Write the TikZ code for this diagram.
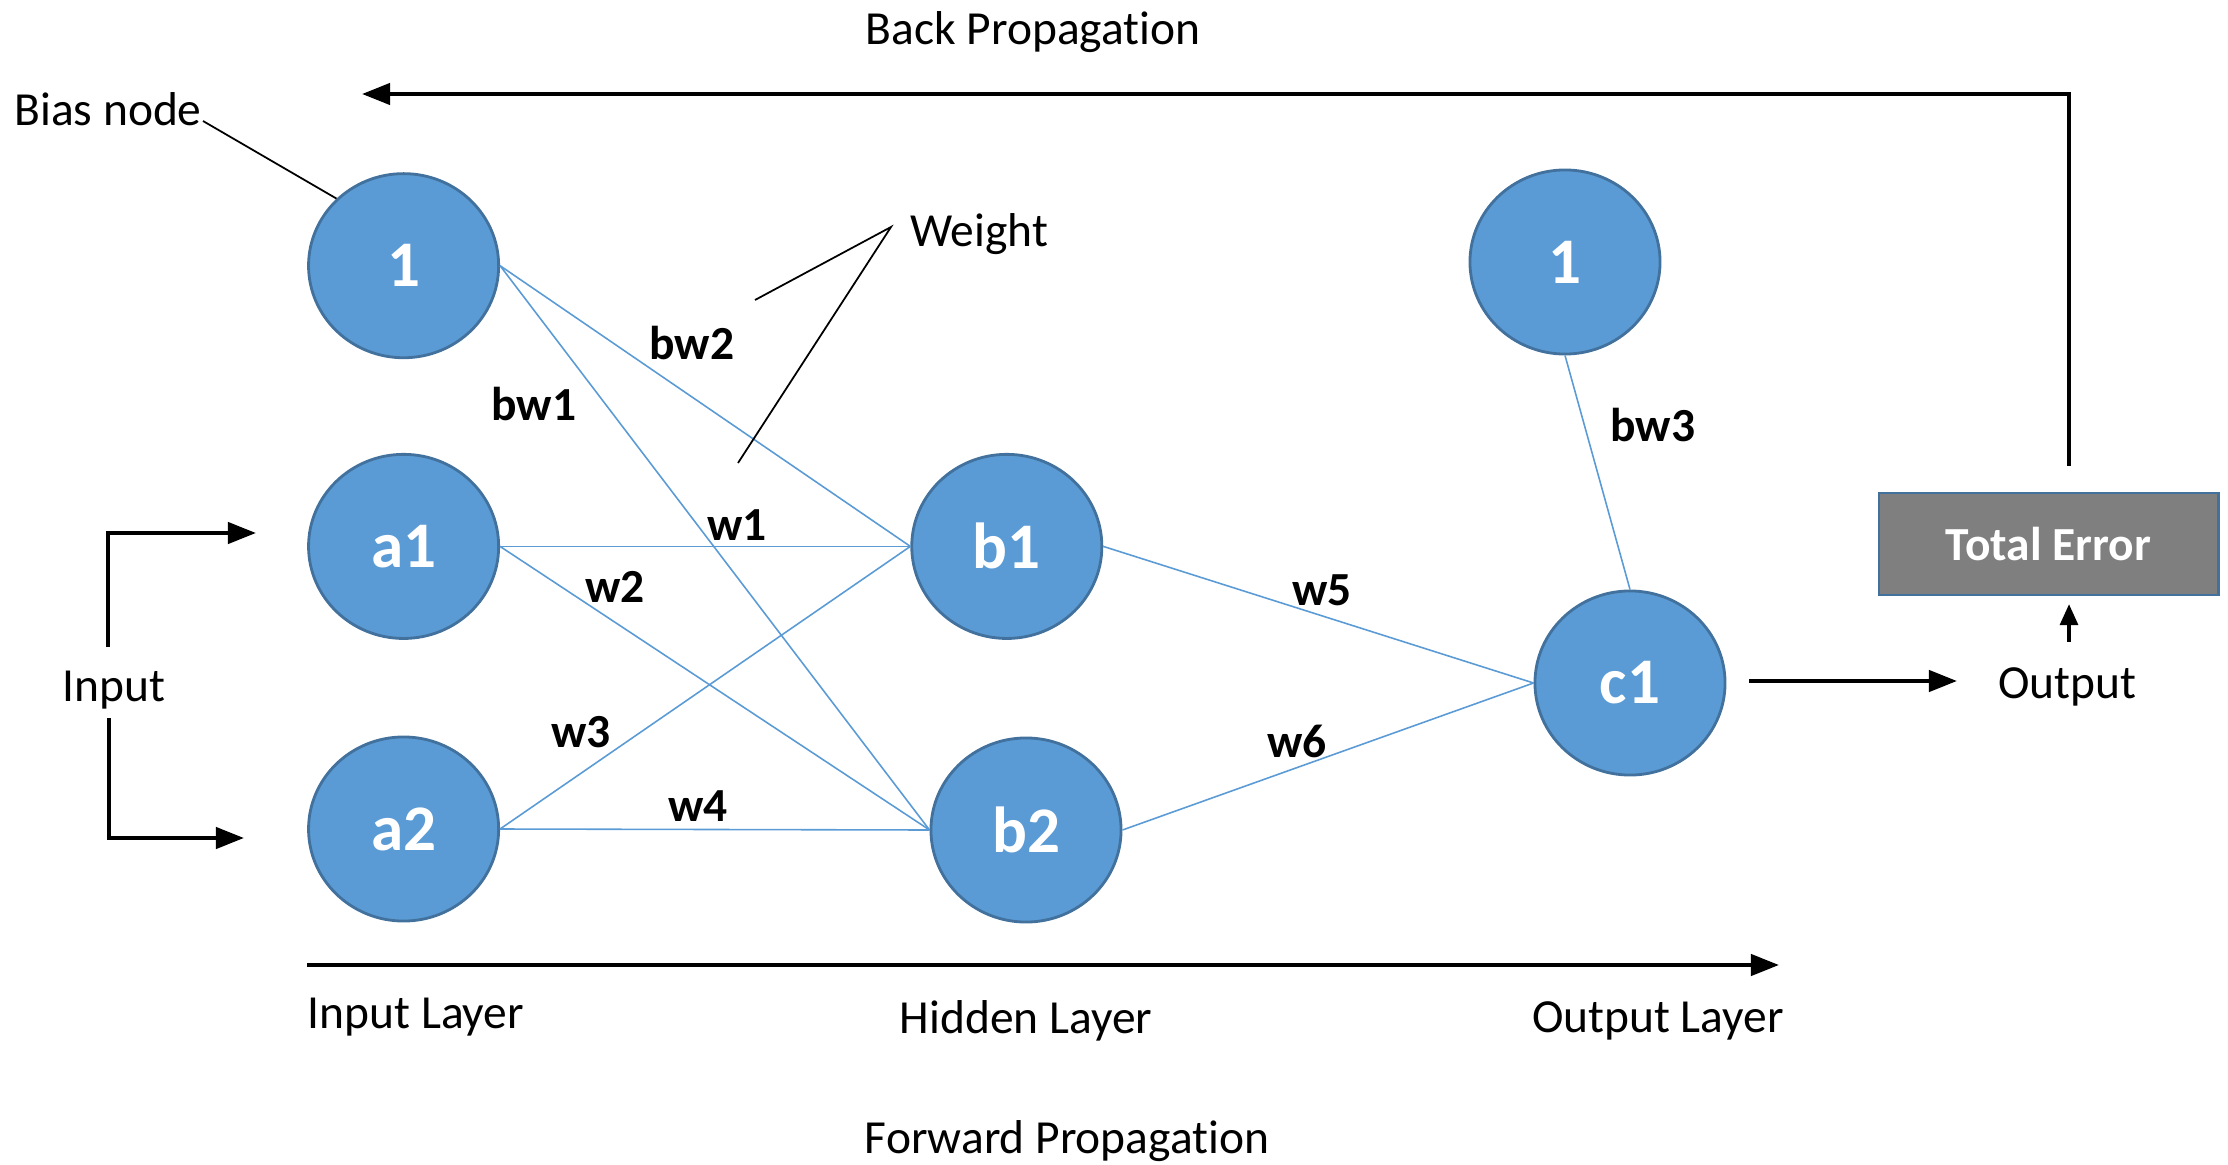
\documentclass[tikz,border=0pt]{standalone}
\usepackage{fontspec}
\setmainfont{Carlito}[Ligatures={NoCommon,NoContextual},Contextuals=NoAlternate]
\usetikzlibrary{shapes.geometric,arrows.meta}
\definecolor{nodeblue}{HTML}{5B9BD5}
\definecolor{nodeborder}{HTML}{41719C}
\definecolor{boxgray}{HTML}{7F7F7F}
\tikzset{
  neuron/.style={ellipse,fill=nodeblue,draw=nodeborder,line width=0.8pt,minimum width=1.9cm,minimum height=1.84cm,inner sep=0pt,text=white,font=\fontsize{18.5}{20}\selectfont\bfseries},
  conn/.style={draw=nodeblue,line width=0.45pt},
  wlabel/.style={font=\fontsize{13.5}{16}\selectfont\bfseries,inner sep=0pt},
  txt/.style={font=\fontsize{13.5}{16}\selectfont,inner sep=0pt},
  thickarrow/.style={line width=1.2pt,-{Triangle[length=8pt,width=6pt]}},
  thinline/.style={line width=0.5pt},
}
\begin{document}
\begin{tikzpicture}[x=0.01cm,y=-0.01cm]
\useasboundingbox (0,0) rectangle (2228,1164);
% neurons
\node[neuron] (bias1) at (403.6,265.7) {1};
\node[neuron] (a1) at (403.6,546.4) {a1};
\node[neuron] (a2) at (403.6,829) {a2};
\node[neuron] (b1) at (1006.8,546.4) {b1};
\node[neuron] (b2) at (1026,830) {b2};
\node[neuron] (bias2) at (1565,262) {1};
\node[neuron] (c1) at (1630,683) {c1};
% box
\node[draw=nodeborder,fill=boxgray,line width=0.8pt,minimum width=3.39cm,minimum height=1.02cm,text=white,font=\fontsize{13.5}{16}\selectfont\bfseries] (err) at (2048.5,544) {Total Error};
% connections
\draw[conn] (bias1.east) -- (b1.west);
\draw[conn] (bias1.east) -- (b2.west);
\draw[conn] (a1.east) -- (b1.west);
\draw[conn] (a1.east) -- (b2.west);
\draw[conn] (a2.east) -- (b1.west);
\draw[conn] (a2.east) -- (b2.west);
\draw[conn] (b1.east) -- (c1.west);
\draw[conn] (b2.east) -- (c1.west);
\draw[conn] (bias2.south) -- (c1.north);
% weight labels
\node[wlabel] (lbw2) at (692,343) {bw2};
\node[wlabel] (lbw1) at (534,404) {bw1};
\node[wlabel] (lw1) at (737,525) {w1};
\node[wlabel] (lw2) at (615,587) {w2};
\node[wlabel] (lw3) at (581,732) {w3};
\node[wlabel] (lw4) at (698,806) {w4};
\node[wlabel] (lw5) at (1322,590) {w5};
\node[wlabel] (lw6) at (1297,741) {w6};
\node[wlabel] (lbw3) at (1653,425) {bw3};
% texts
\node[txt] (backlbl) at (1033,32) {Back Propagation};
\node[txt] (biaslbl) at (108,109) {Bias node};
\node[txt] (weightlbl) at (979,234) {Weight};
\node[txt] (inputlbl) at (114,690) {Input};
\node[txt,anchor=west] (inlayer) at (307,1017) {Input Layer};
\node[txt] (hidlayer) at (1026,1021) {Hidden Layer};
\node[txt] (outlayer) at (1658,1021) {Output Layer};
\node[txt] (fwdlbl) at (1067,1141) {Forward Propagation};
\node[txt] (outlbl) at (2067,687) {Output};
% annotation lines
\coordinate (biasA) at (203,121);
\draw[thinline] (biasA) -- (bias1.135);
\coordinate (wA) at (891,227);
\coordinate (wB) at (755,300);
\coordinate (wC) at (738,463);
\draw[thinline] (wB) -- (wA) -- (wC);
% input arrows
\coordinate (inUp0) at (108,647);
\coordinate (inUp1) at (108,533);
\coordinate (inUp2) at (256,533);
\draw[thickarrow] (inUp0) -- (inUp1) -- (inUp2);
\coordinate (inDn0) at (109,718);
\coordinate (inDn1) at (109,838);
\coordinate (inDn2) at (244,838);
\draw[thickarrow] (inDn0) -- (inDn1) -- (inDn2);
% forward arrow
\coordinate (fwd0) at (307,965);
\coordinate (fwd1) at (1779,965);
\draw[thickarrow] (fwd0) -- (fwd1);
% output arrow
\coordinate (o0) at (1749,681);
\coordinate (o1) at (1957,681);
\draw[thickarrow] (o0) -- (o1);
\coordinate (e0) at (2069,642);
\coordinate (e1) at (2069,604);
\draw[line width=1.2pt,-{Triangle[length=6pt,width=5pt]}] (e0) -- (e1);
% back propagation arrow
\coordinate (bp0) at (2069,466);
\coordinate (bp1) at (2069,94);
\coordinate (bp2) at (362,94);
\draw[thickarrow] (bp0) -- (bp1) -- (bp2);
\end{tikzpicture}
\end{document}
